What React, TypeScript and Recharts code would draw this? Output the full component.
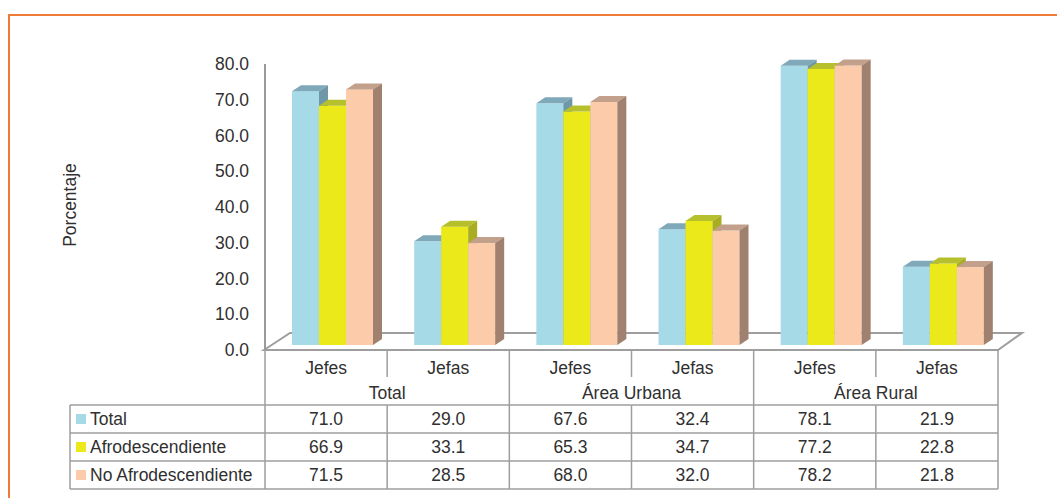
import React from 'react';
import { BarChart, Bar, XAxis, YAxis, ReferenceArea, Label } from 'recharts';

const categories = ['Jefes', 'Jefas', 'Jefes', 'Jefas', 'Jefes', 'Jefas'];
const groups = ['Total', 'Área Urbana', 'Área Rural'];
const seriesNames = ['Total', 'Afrodescendiente', 'No Afrodescendiente'];
const totalValues = [71.0, 29.0, 67.6, 32.4, 78.1, 21.9];
const afroValues = [66.9, 33.1, 65.3, 34.7, 77.2, 22.8];
const noAfroValues = [71.5, 28.5, 68.0, 32.0, 78.2, 21.8];
const yTicks = [0, 10, 20, 30, 40, 50, 60, 70, 80];

const data = categories.map((c, i) => ({
  key: `${groups[Math.floor(i / 2)]}-${c}`,
  cat: c,
  group: groups[Math.floor(i / 2)],
  total: totalValues[i],
  afro: afroValues[i],
  noAfro: noAfroValues[i],
}));

const FONT = '"Liberation Sans", Arial, sans-serif';
const TEXT = '#303030';
const LINE = '#9E9E9E';
const FS = 17.5;

const styles = [
  { key: 'total', front: '#A7DAE7', top: '#7FA8B8', side: '#6E98A8' },
  { key: 'afro', front: '#ECE91B', top: '#B6BF2C', side: '#A8AD22' },
  { key: 'noAfro', front: '#FBCBAA', top: '#C2A08C', side: '#A08170' },
];

const DX = 6;
const DY = 5;
const D = 9;
const V = 6;

const make3D = (front: string, top: string, side: string) => (props: any) => {
  const { x, y, width, height } = props;
  if (x == null || width == null || height == null) return <g />;
  const X = x + DX;
  const Y = y - DY;
  const w = width;
  const h = height;
  return (
    <g>
      <rect x={X} y={Y} width={w} height={h} fill={front} />
      <polygon points={`${X},${Y} ${X + D},${Y - V} ${X + w + D},${Y - V} ${X + w},${Y}`} fill={top} />
      <polygon points={`${X + w},${Y} ${X + w + D},${Y - V} ${X + w + D},${Y + h - V} ${X + w},${Y + h}`} fill={side} />
    </g>
  );
};

const Floor = (props: any) => {
  const { x, y, width, height } = props;
  const bottom = y + height;
  const left = x - 1;
  const right = x + width;
  return (
    <polygon
      points={`${left},${bottom} ${left + 26},${bottom - 17} ${right + 24},${bottom - 17} ${right},${bottom}`}
      fill="#ffffff"
      stroke={LINE}
      strokeWidth={2}
    />
  );
};

const TableTick = (props: any) => {
  const { x, y, payload, index } = props;
  const half = payload && payload.offset ? payload.offset : 61;
  const left = x - half;
  const right = x + half;
  const T = y;
  const rowsY = [T + 55, T + 83, T + 111, T + 139];
  const centers = [T + 69, T + 97, T + 125];
  const vals = [totalValues[index], afroValues[index], noAfroValues[index]];
  const tp = { fontFamily: FONT, fontSize: FS, fill: TEXT, dominantBaseline: 'central' as any };
  const legendLeft = 70;
  return (
    <g>
      {rowsY.map((ry, k) => (
        <line key={'h' + k} x1={left} x2={right} y1={ry} y2={ry} stroke={LINE} strokeWidth={1.5} />
      ))}
      {index % 2 === 1 ? (
        <line x1={right} x2={right} y1={T} y2={T + 139} stroke={LINE} strokeWidth={1.5} />
      ) : (
        <g>
          <line x1={right} x2={right} y1={T} y2={T + 27} stroke={LINE} strokeWidth={1.5} />
          <line x1={right} x2={right} y1={T + 55} y2={T + 139} stroke={LINE} strokeWidth={1.5} />
          <text x={right} y={T + 43} textAnchor="middle" {...tp}>{groups[Math.floor(index / 2)]}</text>
        </g>
      )}
      <text x={x} y={T + 18} textAnchor="middle" {...tp}>{categories[index]}</text>
      {vals.map((v, k) => (
        <text key={'v' + k} x={x} y={centers[k]} textAnchor="middle" {...tp}>{v.toFixed(1)}</text>
      ))}
      {index === 0 && (
        <g>
          <line x1={left} x2={left} y1={T} y2={T + 139} stroke={LINE} strokeWidth={1.5} />
          <line x1={legendLeft} x2={legendLeft} y1={T + 55} y2={T + 139} stroke={LINE} strokeWidth={1.5} />
          {rowsY.map((ry, k) => (
            <line key={'lh' + k} x1={legendLeft} x2={left} y1={ry} y2={ry} stroke={LINE} strokeWidth={1.5} />
          ))}
          {seriesNames.map((n, k) => (
            <g key={'lg' + k}>
              <rect x={legendLeft + 6} y={centers[k] - 5} width={10} height={10} fill={styles[k].front} />
              <text x={legendLeft + 20} y={centers[k]} textAnchor="start" {...tp}>{n}</text>
            </g>
          ))}
        </g>
      )}
    </g>
  );
};

const YLabel = (p: any) => {
  const vb = p.viewBox || { x: 0, y: 64, width: 265, height: 286 };
  const cx = vb.x + 70;
  const cy = vb.y + vb.height / 2 - 2;
  return (
    <text
      x={cx}
      y={cy}
      transform={`rotate(-90 ${cx} ${cy})`}
      textAnchor="middle"
      dominantBaseline="central"
      fontFamily={FONT}
      fontSize={FS}
      fill={TEXT}
    >
      Porcentaje
    </text>
  );
};

export default function App() {
  return (
    <div style={{ position: 'fixed', left: 0, top: 0, width: 1057, height: 498, background: '#fff' }}>
      <div
        style={{
          position: 'fixed',
          left: 8,
          top: 14,
          width: 3000,
          height: 3000,
          borderTop: '2px solid #EE7B37',
          borderLeft: '2px solid #EE7B37',
        }}
      />
      <div style={{ position: 'absolute', left: 0, top: 0 }}>
        <BarChart
          width={1057}
          height={498}
          data={data}
          margin={{ top: 64, right: 59, bottom: 0, left: 0 }}
          barGap={0}
          barSize={27}
        >
          <ReferenceArea y1={0} y2={1} shape={Floor} ifOverflow="visible" />
          <XAxis
            dataKey="key"
            height={148}
            axisLine={false}
            tickLine={false}
            tickSize={0}
            tickMargin={0}
            interval={0}
            tick={(p: any) => <TableTick {...p} />}
          />
          <YAxis
            width={265}
            domain={[0, 80]}
            ticks={yTicks}
            tickFormatter={(v: number) => v.toFixed(1)}
            axisLine={{ stroke: '#9A9A9A', strokeWidth: 2 }}
            tickLine={false}
            tickSize={6}
            tickMargin={10}
            tick={{ fill: TEXT, fontSize: FS, fontFamily: FONT }}
          >
            <Label content={YLabel} />
          </YAxis>
          {styles.map((s) => (
            <Bar
              key={s.key}
              dataKey={s.key}
              isAnimationActive={false}
              fill={s.front}
              shape={make3D(s.front, s.top, s.side)}
            />
          ))}
        </BarChart>
      </div>
    </div>
  );
}
